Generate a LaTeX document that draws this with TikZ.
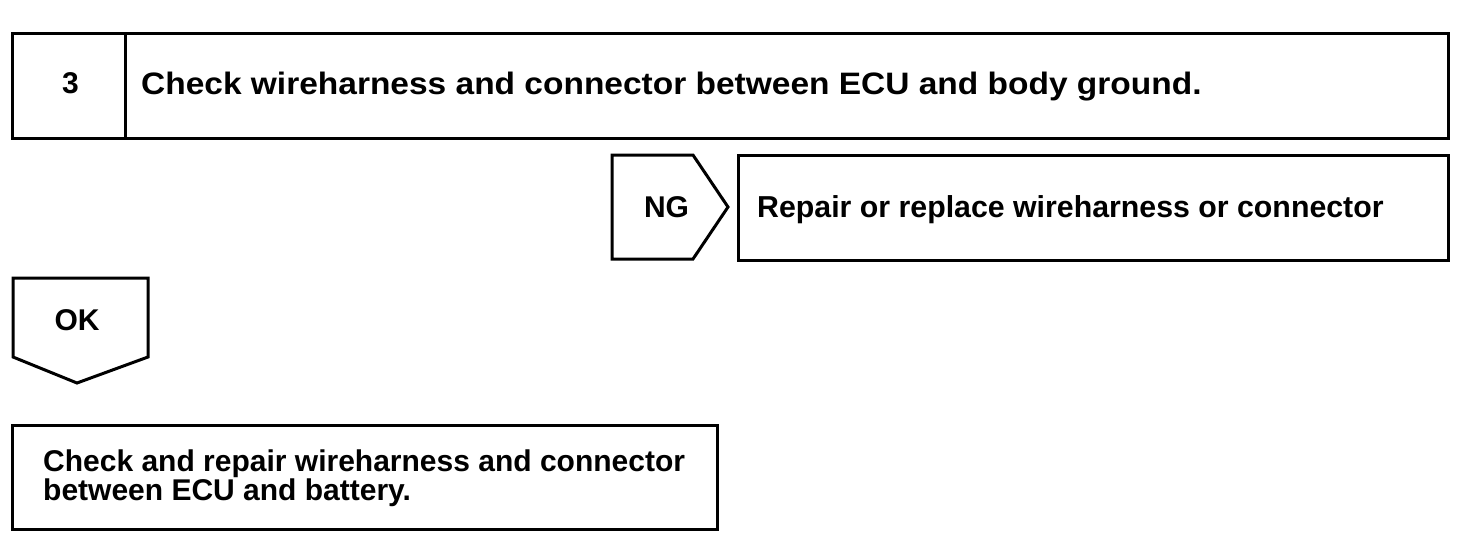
\documentclass[tikz,border=0pt]{standalone}
\usepackage{fontspec}
\setmainfont{Liberation Sans}
\begin{document}
\begin{tikzpicture}[x=1pt,y=-1pt,
  box/.style={draw=black,line width=3pt,line join=miter},
  lbl/.style={font=\fontsize{30}{34}\selectfont\bfseries,inner sep=0pt},
  lblc/.style={font=\fontsize{30}{29}\selectfont\bfseries,inner sep=0pt,align=left}]
\useasboundingbox (0,0) rectangle (1472,546);
% step 3 box
\draw[box] (12,33) rectangle (1448,138);
\draw[box] (125,33) -- (125,138);
\node[lbl,anchor=base] (num) at (70.5,93) {3};
\node[lbl,anchor=base west] (title) at (141,94) {\scalebox{1.08}[1]{\fontsize{31}{34}\selectfont Check wireharness and connector between ECU and body ground.}};
% NG tag
\draw[box] (612,155) -- (693,155) -- (728,207) -- (693,259) -- (612,259) -- cycle;
\node[lbl,anchor=base] (ng) at (666.5,217) {NG};
% repair box
\draw[box] (738,155) rectangle (1448,260);
\node[lbl,anchor=base west] (repair) at (757,217) {\fontsize{30.3}{34}\selectfont Repair or replace wireharness or connector};
% OK tag
\draw[box] (13,278) -- (148,278) -- (148,357) -- (77,383) -- (13,357) -- cycle;
\node[lbl,anchor=base] (ok) at (77,330) {OK};
% bottom box
\draw[box] (12,425) rectangle (717,529);
\node[lblc,anchor=base west] (bottom) at (43,500) {Check and repair wireharness and connector\\between ECU and battery.};
\end{tikzpicture}
\end{document}
